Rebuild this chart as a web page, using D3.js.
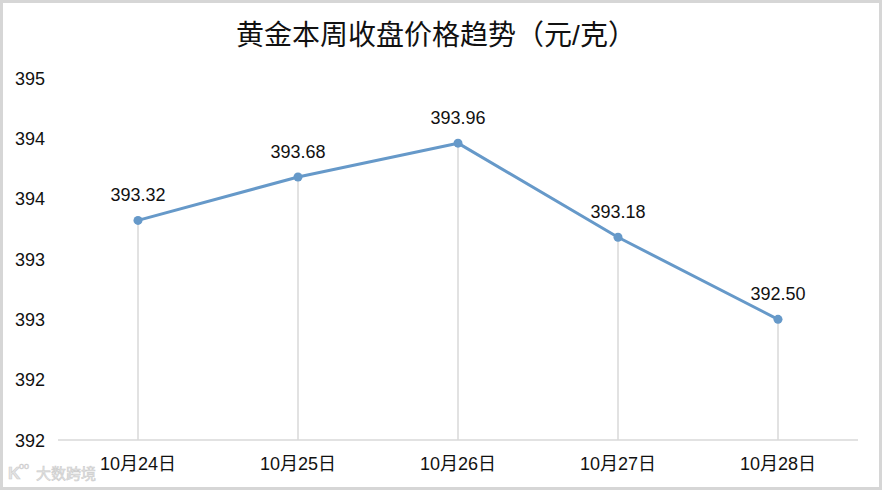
<!DOCTYPE html>
<html><head><meta charset="utf-8">
<script src="https://cdn.jsdelivr.net/npm/d3@7"></script>
<style>body{margin:0;background:#fff;}svg{display:block;font-family:"Liberation Sans","Noto Sans CJK SC",sans-serif;}</style>
</head><body>
<svg id="c" width="882" height="490"></svg>
<script>
const categories = ["10月24日","10月25日","10月26日","10月27日","10月28日"];
const values = [393.32, 393.68, 393.96, 393.18, 392.50];
const yTickValues = [391.5, 392.0, 392.5, 393.0, 393.5, 394.0, 394.5];
const yTickLabels = ["392","392","393","393","394","394","395"];
const title = "黄金本周收盘价格趋势（元/克）";

const svg = d3.select("#c");
const W = 882, H = 490;
svg.append("rect").attr("x",1.5).attr("y",1.5).attr("width",W-3).attr("height",H-3)
  .attr("fill","#fff").attr("stroke","#d6d6d6").attr("stroke-width",3);

const x = d3.scaleBand().domain(categories).range([58, 858]);
const y = d3.scaleLinear().domain([391.5, 394.5]).range([440, 78]);

svg.append("text").attr("x",436).attr("y",45).attr("text-anchor","middle")
  .attr("font-size",28).attr("fill","#111").text(title);

// y tick labels
svg.selectAll(".yt").data(yTickValues).enter().append("text")
  .attr("x",15).attr("y",d=>y(d)+6.5).attr("font-size",18).attr("fill","#111")
  .text((d,i)=>yTickLabels[i]);

// drop lines
const cx = d => x(d)+x.bandwidth()/2;
svg.selectAll(".drop").data(categories).enter().append("line")
  .attr("x1",d=>cx(d)).attr("x2",d=>cx(d))
  .attr("y1",(d,i)=>y(values[i])).attr("y2",440)
  .attr("stroke","#d9d9d9").attr("stroke-width",1.5);

// x axis line
svg.append("line").attr("x1",58).attr("x2",858).attr("y1",440).attr("y2",440)
  .attr("stroke","#d9d9d9").attr("stroke-width",1.5);

// x labels
svg.selectAll(".xl").data(categories).enter().append("text")
  .attr("x",d=>cx(d)).attr("y",470).attr("text-anchor","middle")
  .attr("font-size",18).attr("fill","#111").text(d=>d);

// line
const line = d3.line().x((d,i)=>cx(categories[i])).y(d=>y(d));
svg.append("path").attr("d",line(values)).attr("fill","none")
  .attr("stroke","#6699c9").attr("stroke-width",3).attr("stroke-linejoin","round");

svg.selectAll(".pt").data(values).enter().append("circle")
  .attr("cx",(d,i)=>cx(categories[i])).attr("cy",d=>y(d)).attr("r",4.5)
  .attr("fill","#6699c9");

svg.selectAll(".lbl").data(values).enter().append("text")
  .attr("x",(d,i)=>cx(categories[i])).attr("y",d=>y(d)-19)
  .attr("text-anchor","middle").attr("font-size",18).attr("fill","#111")
  .text(d=>d.toFixed(2));

// watermark
const wm = svg.append("g").attr("opacity",0.9);
wm.append("text").attr("x",8).attr("y",479).attr("font-size",17).attr("font-weight","bold")
  .attr("fill","#e2e2e2").attr("stroke","#c8c8c8").attr("stroke-width",0.6).text("K");
wm.append("text").attr("x",19).attr("y",469).attr("font-size",9)
  .attr("fill","#e2e2e2").attr("stroke","#c8c8c8").attr("stroke-width",0.5).text("oo");
wm.append("text").attr("x",36).attr("y",479).attr("font-size",15)
  .attr("fill","#e6e6e6").attr("stroke","#c8c8c8").attr("stroke-width",0.6).text("大数跨境");
</script>
</body></html>
